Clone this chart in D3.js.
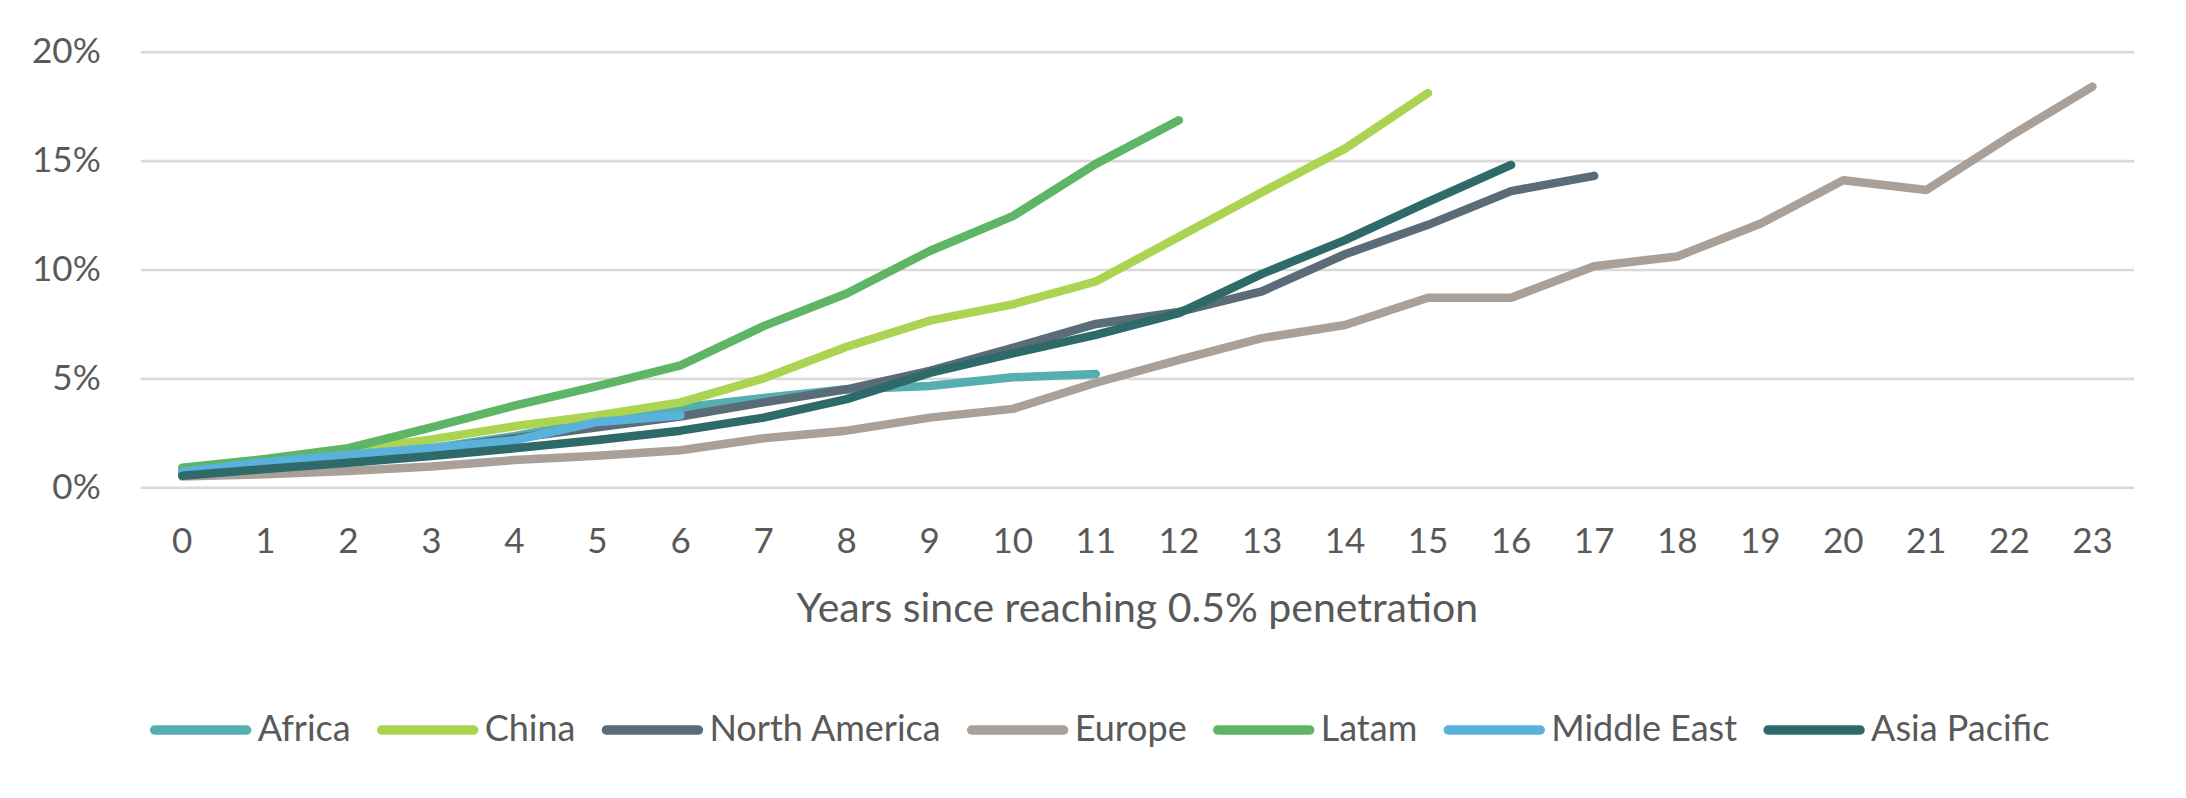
<!DOCTYPE html>
<html>
<head>
<meta charset="utf-8">
<script src="https://d3js.org/d3.v7.min.js"></script>
<style>
  body { margin: 0; background: #fff; }
  text { font-family: Lato, "Open Sans", sans-serif; fill: #595959; }
</style>
</head>
<body>
<script>
// years since reaching 0.5% penetration
var years = d3.range(0, 24);
var yTicks = [0, 5, 10, 15, 20];

// penetration in %, one array per region
var africa = [0.7, 1.05, 1.4, 1.8, 2.35, 3.05, 3.65, 4.1, 4.5, 4.65, 5.05, 5.2];
var china = [0.85, 1.25, 1.7, 2.2, 2.8, 3.3, 3.9, 5.0, 6.45, 7.65, 8.4, 9.45, 11.5, 13.55, 15.55, 18.1];
var northAmerica = [0.6, 0.9, 1.25, 1.75, 2.25, 2.75, 3.25, 3.9, 4.5, 5.35, 6.4, 7.5, 8.05, 9.0, 10.7, 12.05, 13.6, 14.3];
var europe = [0.5, 0.6, 0.75, 0.95, 1.25, 1.45, 1.7, 2.25, 2.6, 3.2, 3.6, 4.8, 5.85, 6.85, 7.45, 8.7, 8.7, 10.15, 10.6, 12.1, 14.1, 13.65, 16.1, 18.4];
var latam = [0.9, 1.3, 1.8, 2.75, 3.75, 4.65, 5.6, 7.4, 8.9, 10.85, 12.45, 14.85, 16.85];
var middleEast = [0.72, 1.15, 1.5, 1.8, 2.15, 3.0, 3.3];
var asiaPacific = [0.53, 0.84, 1.13, 1.44, 1.79, 2.17, 2.6, 3.2, 4.05, 5.25, 6.15, 7.0, 8.0, 9.8, 11.35, 13.1, 14.8];

var names = ["Africa", "China", "North America", "Europe", "Latam", "Middle East", "Asia Pacific"];
var colors = ["#55AEAF", "#AAD451", "#5B6C79", "#A9A199", "#5FB566", "#5AB2DC", "#2F6A6A"];
var values = [africa, china, northAmerica, europe, latam, middleEast, asiaPacific];

var series = names.map(function (n, i) {
    return { name: n, color: colors[i], values: values[i] };
});

var W = 2186, H = 798;
var plotLeft = 140.7, plotRight = 2134, plotTop = 51.7, plotBottom = 487.3;

var svg = d3.select("body").append("svg")
    .attr("width", W)
    .attr("height", H);

var x = d3.scaleBand()
    .domain(years)
    .range([plotLeft, plotRight])
    .padding(0);

var y = d3.scaleLinear()
    .domain([0, 20])
    .range([plotBottom, plotTop]);

// y axis + gridlines
var yAxis = svg.append("g")
    .attr("transform", "translate(" + plotLeft + ",0)")
    .call(d3.axisLeft(y)
        .tickValues(yTicks)
        .tickFormat(function (d) { return d + "%"; })
        .tickSizeInner(-(plotRight - plotLeft))
        .tickSizeOuter(0)
        .tickPadding(40));
yAxis.select(".domain").remove();
yAxis.selectAll("line").attr("stroke", "#D9D9D9").attr("stroke-width", 2.6);
yAxis.selectAll("text")
    .style("font-size", "35px")
    .attr("fill", "#595959");

// x axis labels
var xAxis = svg.append("g")
    .attr("transform", "translate(0," + plotBottom + ")")
    .call(d3.axisBottom(x).tickSize(0).tickPadding(41));
xAxis.select(".domain").remove();
xAxis.selectAll("text")
    .style("font-size", "35px")
    .attr("fill", "#595959");

svg.append("text")
    .attr("x", (plotLeft + plotRight) / 2)
    .attr("y", 621.7)
    .attr("text-anchor", "middle")
    .style("font-size", "41px")
    .text("Years since reaching 0.5% penetration");

// lines
var line = d3.line()
    .x(function (d, i) { return x(years[i]) + x.bandwidth() / 2; })
    .y(function (d) { return y(d); });

svg.append("g").selectAll("path")
    .data(series)
    .enter().append("path")
    .attr("d", function (s) { return line(s.values); })
    .attr("fill", "none")
    .attr("stroke", function (s) { return s.color; })
    .attr("stroke-width", 8.5)
    .attr("stroke-linecap", "round")
    .attr("stroke-linejoin", "round");

// legend
var legend = svg.append("g");
var items = legend.selectAll("g")
    .data(series)
    .enter().append("g");
items.append("line")
    .attr("x1", 0).attr("x2", 92)
    .attr("y1", 730).attr("y2", 730)
    .attr("stroke", function (s) { return s.color; })
    .attr("stroke-width", 9.5)
    .attr("stroke-linecap", "round");
items.append("text")
    .attr("x", 103)
    .attr("y", 740.7)
    .style("font-size", "36px")
    .text(function (s) { return s.name; });

var pos = 0;
items.each(function () {
    var g = d3.select(this);
    g.attr("transform", "translate(" + pos + ",0)");
    pos += 103 + g.select("text").node().getComputedTextLength() + 31;
});
var total = pos - 31;
legend.attr("transform", "translate(" + (1098 - total / 2 + 4) + ",0)");
</script>
</body>
</html>
